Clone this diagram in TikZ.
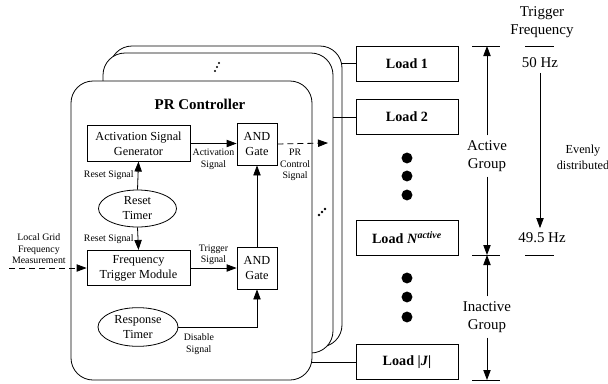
\documentclass[tikz,border=0pt]{standalone}
\usepackage{fontspec}
\setmainfont{Liberation Serif}
\usetikzlibrary{positioning}
\usetikzlibrary{arrows.meta}
\usetikzlibrary{shapes.geometric}

\begin{document}
\begin{tikzpicture}[x=0.75pt, y=-0.75pt, line width=0.6pt,
	blk/.style={draw, inner sep=1pt, align=center, font=\fontsize{9.2}{11}\selectfont},
	andbox/.style={blk, minimum width=30pt, minimum height=31.5pt},
	modbox/.style={blk, minimum width=77.25pt, minimum height=26.5pt},
	timer/.style={ellipse, draw, inner sep=0pt, align=center, font=\fontsize{9.2}{11.2}\selectfont},
	panel/.style={draw, fill=white, rounded corners=16.5pt, inner sep=0pt},
	load/.style={draw, minimum width=76.5pt, minimum height=26.25pt, font=\fontsize{10.6}{12}\selectfont\bfseries},
	lbl/.style={align=center, font=\fontsize{7.4}{8.6}\selectfont, inner sep=1pt},
	big/.style={align=center, font=\fontsize{11.2}{13.8}\selectfont},
	sig/.style={-{Triangle[length=7.5pt,width=5.5pt]}},
	dsh/.style={dash pattern=on 4.5pt off 3pt}]
	 \useasboundingbox (0,0) rectangle (608,383);

	 % Stacked controller panels, back to front
	 \node[panel, minimum width=174pt, minimum height=225.75pt] (pr3) at (226,196.5) {};
	 \node[panel, minimum width=172.5pt, minimum height=225pt] (pr2) at (218,203) {};
	 \node[panel, minimum width=180.75pt, minimum height=224.25pt] (pr1) at (191.5,230.5) {};
	 \node[font=\fontsize{11.2}{13}\selectfont\bfseries] (prc) at (200,104) {PR Controller};

	 % Blocks inside the front panel
	 \node[modbox] (asg) at (138.5,143.5) {Activation Signal\\Generator};
	 \node[andbox] (and1) at (257,144) {AND\\Gate};
	 \node[timer, minimum width=58.5pt, minimum height=27.75pt] (rst) at (137.5,208.5) {Reset\\Timer};
	 \node[modbox] (ftm) at (138.5,268) {Frequency\\Trigger Module};
	 \node[andbox] (and2) at (257,268) {AND\\Gate};
	 \node[timer, minimum width=60pt, minimum height=29pt] (rsp) at (138,327) {Response\\Timer};
	 \coordinate (pcs) at (328,143);
	 \coordinate (lgm) at (9,268);

	 \draw[sig] (asg.east) -- (asg.east -| and1.west) node[lbl, midway, below=3pt] {Activation\\Signal};
	 \draw[sig] (rst.north) -- (asg.south) node[lbl, midway, left=2pt] {Reset Signal};
	 \draw[sig] (rst.south) -- (ftm.north) node[lbl, midway, left=2pt] {Reset Signal};
	 \draw[sig] (ftm.east) -- (and2.west) node[lbl, midway, above=1pt] {Trigger\\Signal};
	 \draw[sig] (and2.north) -- (and1.south);
	 \draw[sig] (rsp.east) -| (and2.south) node[lbl, pos=0.13, below=4pt] {Disable\\Signal};
	 \draw[sig, dsh] (and1.east) -- (pcs) node[lbl, pos=0.35, below=3pt] {PR\\Control\\Signal};
	 \draw[sig, dsh] (lgm) -- (ftm.west) node[lbl, pos=0.385, above=2pt] {Local Grid\\Frequency\\Measurement};

	 % Loads
	 \node[load] (ld1) at (407,63.5) {Load 1};
	 \node[load] (ld2) at (407,117) {Load 2};
	 \node[load] (ldn) at (407,237.5) {Load \textit{N}\textsuperscript{\textit{active}}};
	 \node[load] (ldj) at (407,362) {Load |\textit{J}|};
	 \draw (ld1.west) -- (ld1.west -| pr3.east);
	 \draw (ld2.west) -- (ld2.west -| pr2.east);
	 \draw (ldj.west) -- (ldj.west -| pr1.east);

	 \foreach \y in {158,176,195,278,297,317} {
	 	\fill (407,\y) circle (4.1pt);
	 }
	 \foreach \d in {0,1,2} {
	 	\fill ({215+2*\d},{71-4*\d}) circle (0.9pt);
	 	\fill ({319+3*\d},{215-3*\d}) circle (1.1pt);
	 }

	 % Groups and trigger frequencies
	 \foreach \y/\n in {46/g0,255/g1,380/g2} {
	 	\draw (472,\y) -- (500,\y);
	 	\coordinate (\n) at (487,\y);
	 }
	 \foreach \y in {46,255} {
	 	\draw (525,\y) -- (554,\y);
	 }
	 \node[big] (actg) at (487,156) {Active\\Group};
	 \node[big] (inag) at (487,317) {Inactive\\Group};
	 \draw[sig] (actg) -- (g0);
	 \draw[sig] (actg) -- (g1);
	 \draw[sig] (inag) -- (g1);
	 \draw[sig] (inag) -- (g2);

	 \node[big] (tf) at (542,22) {Trigger\\Frequency};
	 \node[big] (f50) at (540,63) {50 Hz};
	 \node[big] (f495) at (542,238) {49.5 Hz};
	 \node[align=center, font=\fontsize{9.2}{12}\selectfont] (evd) at (583,157) {Evenly\\distributed};
	 \draw[sig] (f50) -- (f50 |- f495.north);
\end{tikzpicture}
\end{document}
